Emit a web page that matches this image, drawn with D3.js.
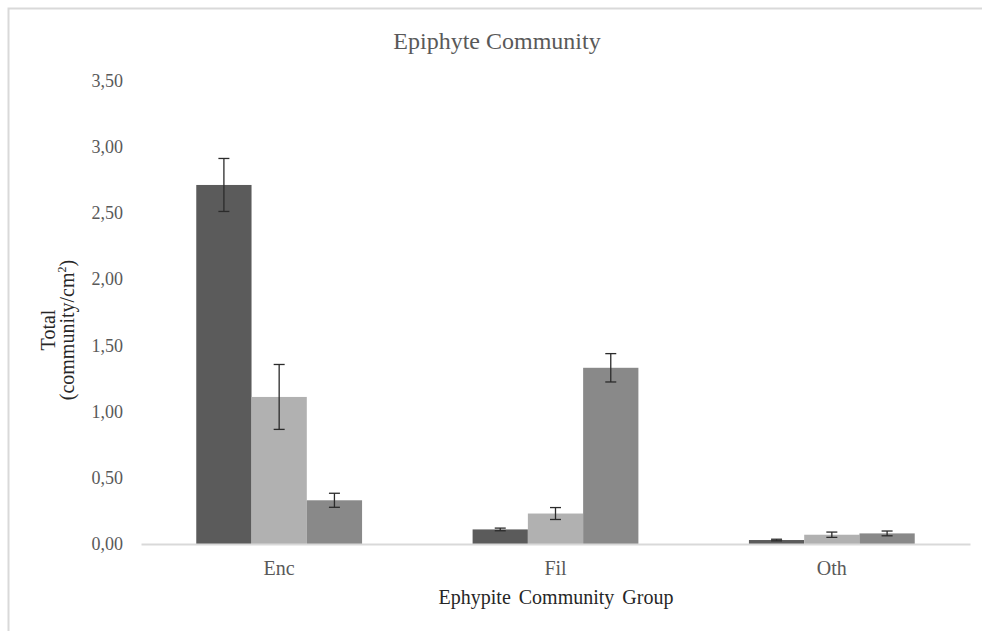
<!DOCTYPE html>
<html>
<head>
<meta charset="utf-8">
<script src="https://cdn.jsdelivr.net/npm/d3@7"></script>
<style>
  html, body { margin: 0; padding: 0; background: #fff; }
  svg { display: block; }
  text { font-family: "Liberation Serif", "Times New Roman", serif; }
</style>
</head>
<body>
<svg id="chart" width="982" height="631"></svg>
<script>
// ---- data ----
const categories = ["Enc", "Fil", "Oth"];
const seriesNames = ["Series 1", "Series 2", "Series 3"];
const series1 = [2.71, 0.11, 0.03];
const series2 = [1.11, 0.23, 0.07];
const series3 = [0.33, 1.33, 0.08];
const error1 = [0.20, 0.01, 0.006];
const error2 = [0.245, 0.045, 0.02];
const error3 = [0.053, 0.107, 0.018];
const yTicks = [0, 0.5, 1, 1.5, 2, 2.5, 3, 3.5];
const titleText = "Epiphyte Community";
const xTitle = "Ephypite Community Group";
const yTitleLine1 = "Total";
const yTitleLine2 = "(community/cm";

const seriesValues = [series1, series2, series3];
const seriesErrors = [error1, error2, error3];
const colors = ["#5b5b5b", "#b1b1b1", "#898989"];

const svg = d3.select("#chart");

// outer frame
svg.append("rect")
  .attr("x", 8.5).attr("y", 8.5)
  .attr("width", 1000).attr("height", 1000)
  .attr("fill", "#fff")
  .attr("stroke", "#d9d9d9").attr("stroke-width", 2);

const plot = { left: 141, right: 970, top: 80.3, bottom: 544 };

const x0 = d3.scaleBand().domain(categories).range([plot.left, plot.right]).padding(0);
const groupW = x0.bandwidth() * 0.6;
const x1 = d3.scaleBand().domain(seriesNames).range([0, groupW]).padding(0);
const y = d3.scaleLinear().domain([0, 3.5]).range([plot.bottom, plot.top]);

// title
svg.append("text")
  .attr("x", 497).attr("y", 49)
  .attr("text-anchor", "middle")
  .attr("font-size", 24)
  .attr("fill", "#595959")
  .text(titleText);

// y axis tick labels
const yAxis = d3.axisLeft(y).tickValues(yTicks).tickSize(0).tickPadding(0)
  .tickFormat(d => d3.format(".2f")(d).replace(".", ","));
const yG = svg.append("g").attr("transform", `translate(123,0)`).call(yAxis);
yG.select(".domain").remove();
yG.selectAll("text")
  .attr("font-family", "Liberation Serif, serif")
  .attr("font-size", 18)
  .attr("fill", "#595959")
  .attr("dy", "0.32em");

// bars
const groups = svg.append("g").selectAll("g")
  .data(categories)
  .join("g")
  .attr("transform", d => `translate(${x0(d) + (x0.bandwidth() - groupW) / 2},0)`);

groups.selectAll("rect")
  .data((d, i) => seriesNames.map((s, j) => ({ s, v: seriesValues[j][i], e: seriesErrors[j][i], c: colors[j] })))
  .join("rect")
  .attr("x", d => x1(d.s))
  .attr("y", d => y(d.v))
  .attr("width", x1.bandwidth())
  .attr("height", d => y(0) - y(d.v))
  .attr("fill", d => d.c);

// error bars
const capW = 11;
const eb = groups.selectAll("g.err")
  .data((d, i) => seriesNames.map((s, j) => ({ s, v: seriesValues[j][i], e: seriesErrors[j][i] })))
  .join("g").attr("class", "err")
  .attr("stroke", "#2b2b2b").attr("stroke-width", 1.3);
eb.append("line")
  .attr("x1", d => x1(d.s) + x1.bandwidth() / 2)
  .attr("x2", d => x1(d.s) + x1.bandwidth() / 2)
  .attr("y1", d => y(d.v + d.e)).attr("y2", d => y(d.v - d.e));
eb.append("line")
  .attr("x1", d => x1(d.s) + x1.bandwidth() / 2 - capW / 2)
  .attr("x2", d => x1(d.s) + x1.bandwidth() / 2 + capW / 2)
  .attr("y1", d => y(d.v + d.e)).attr("y2", d => y(d.v + d.e));
eb.append("line")
  .attr("x1", d => x1(d.s) + x1.bandwidth() / 2 - capW / 2)
  .attr("x2", d => x1(d.s) + x1.bandwidth() / 2 + capW / 2)
  .attr("y1", d => y(d.v - d.e)).attr("y2", d => y(d.v - d.e));

// x axis
const xAxis = d3.axisBottom(x0).tickSize(0).tickPadding(0);
const xG = svg.append("g").attr("transform", `translate(0,${plot.bottom})`).call(xAxis);
xG.select(".domain").attr("stroke", "#d9d9d9").attr("stroke-width", 2);
xG.selectAll("text")
  .attr("font-family", "Liberation Serif, serif")
  .attr("font-size", 20)
  .attr("fill", "#595959")
  .attr("dy", null)
  .attr("y", 31);

// x title
svg.append("text")
  .attr("x", 556).attr("y", 604)
  .attr("text-anchor", "middle")
  .attr("font-size", 20)
  .attr("word-spacing", 3)
  .attr("fill", "#262626")
  .text(xTitle);

// y title (two lines)
svg.append("text")
  .attr("transform", "translate(55,330) rotate(-90)")
  .attr("text-anchor", "middle")
  .attr("font-size", 20)
  .attr("fill", "#262626")
  .text(yTitleLine1);
const yt2 = svg.append("text")
  .attr("transform", "translate(74,330) rotate(-90)")
  .attr("text-anchor", "middle")
  .attr("font-size", 20)
  .attr("fill", "#262626");
yt2.append("tspan").text(yTitleLine2);
yt2.append("tspan").attr("font-size", 12).attr("dy", -8).text("2");
yt2.append("tspan").attr("dy", 8).text(")");
</script>
</body>
</html>
